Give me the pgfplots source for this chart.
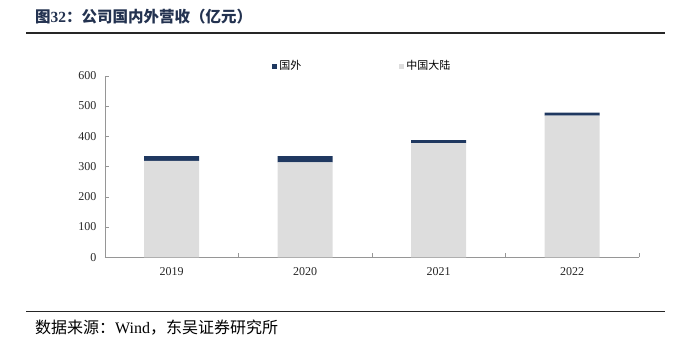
\documentclass[border=0pt]{standalone}
\usepackage{fontspec}
\setmainfont{Liberation Serif}
\newfontfamily\cjk{Noto Sans CJK SC}
\usepackage{pgfplots}
\pgfplotsset{compat=1.18}
\definecolor{navy}{RGB}{31,56,96}
\definecolor{lgray}{RGB}{221,221,221}
\definecolor{axgray}{RGB}{150,150,150}
\definecolor{titlec}{RGB}{35,50,80}
\pgfplotsset{sq legend/.style={legend image code/.code={\fill[##1,draw=none] (0pt,-2.5pt) rectangle (5pt,2.5pt);}}}
\begin{document}
\begin{tikzpicture}
\useasboundingbox (0pt,0pt) rectangle (681pt,351pt);
\node[anchor=west, inner sep=0, text=titlec, font=\fontsize{15.5}{15.5}\selectfont\bfseries] at (35pt,334pt) {{\cjk 图}32{\cjk ：公司国内外营收（亿元）}};
\draw[line width=2pt, black!85] (26pt,317.7pt) -- (665pt,317.7pt);
\begin{axis}[
  at={(105pt,93.7pt)}, anchor=south west,
  scale only axis, width=534pt, height=181.6pt,
  xmin=-0.5, xmax=3.5, ymin=0, ymax=600,
  ytick={0,100,...,600},
  xtick={0,1,2,3}, xticklabels={2019,2020,2021,2022},
  minor xtick={-0.5,0.5,1.5,2.5,3.5},
  ybar stacked, bar width=55pt,
  axis x line*=bottom, axis y line*=left,
  axis line style={axgray,-},
  tick align=inside,
  major tick length=4pt, minor tick length=4pt,
  major x tick style={draw=none},
  minor x tick style={axgray},
  ytick style={axgray},
  ticklabel style={font=\fontsize{12}{12}\selectfont, text=black!85},
  xticklabel style={yshift=-7pt},
  yticklabel style={xshift=-5pt},
  /pgf/number format/assume math mode=true,
  legend columns=2, reverse legend,
  legend style={at={(0.482,1.053)}, anchor=center, draw=none, fill=none,
    font=\fontsize{11}{11}\selectfont,
    /tikz/every even column/.append style={column sep=96pt}},
]
\addplot[fill=lgray, draw=none, sq legend] coordinates {(0,319) (1,314) (2,377) (3,468)};
\addplot[fill=navy, draw=none, sq legend] coordinates {(0,15) (1,20) (2,10) (3,10)};
\legend{{\cjk 中国大陆},{\cjk 国外}}
\end{axis}
\draw[line width=1.5pt, black!85] (26pt,39.3pt) -- (665pt,39.3pt);
\node[anchor=west, inner sep=0, font=\fontsize{16}{16}\selectfont] at (35pt,23pt) {{\cjk 数据来源：}Wind{\cjk ，东吴证券研究所}};
\end{tikzpicture}
\end{document}
